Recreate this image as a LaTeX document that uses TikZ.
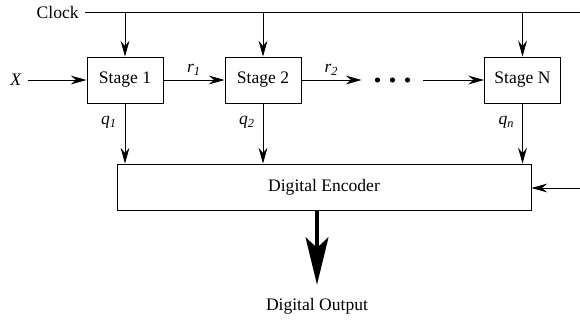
\documentclass[tikz,border=0pt]{standalone}
\usepackage{fontspec}
\setmainfont{Liberation Serif}
\usetikzlibrary{positioning,arrows.meta}

\tikzset{
  stagebox/.style={draw, minimum width=1.52cm, minimum height=0.92cm},
  sig/.style={-{Stealth[length=9pt,width=5pt,inset=3pt]}, line width=.5pt},
  bigout/.style={-{Stealth[length=27pt,width=13pt,inset=6pt]}, line width=2.3pt}
}

\begin{document}
\begin{tikzpicture}[x=0.02cm,y=-0.02cm,line width=.5pt]
          \useasboundingbox (0,0) rectangle (580,322);
          % the stages
          \node[stagebox] (s1) at (125,80) {Stage 1};
          \node[stagebox] (s2) at (263,80) {Stage 2};
          \node[stagebox] (sn) at (522.5,80) {Stage N};
          \node[inner sep=0, minimum width=1.22cm, minimum height=.2cm] (dots) at (392.5,80) {};
          \foreach \dx in {-15,0,15}
            \fill ([xshift=\dx*0.02cm]dots.center) circle (2.6);
          \node[draw, minimum width=8.28cm, minimum height=0.92cm] (enc) at (324,187) {Digital Encoder};
          % clock line
          \node[anchor=east] (clk) at (85,12) {Clock};
          \coordinate (clkend) at (580,12);
          \draw (clk) -- (clkend);
          \foreach \s in {s1,s2,sn}
            \draw[sig] (\s |- clk) -- (\s);
          % chain
          \node (x) at (16,80) {\textit{X}};
          \draw[sig] (x) -- (s1);
          \draw[sig] (s1) -- node[above=-1pt] {\textit{r}\textsubscript{\textit{1}}} (s2);
          \draw[sig] (s2) -- node[above=-1pt] {\textit{r}\textsubscript{\textit{2}}} (dots);
          \draw[sig] (dots) -- (sn);
          % stage outputs into the encoder
          \draw[sig] (s1) -- node[pos=.32,left=1pt] {\textit{q}\textsubscript{\textit{1}}} (s1 |- enc.north);
          \draw[sig] (s2) -- node[pos=.32,left=1pt] {\textit{q}\textsubscript{\textit{2}}} (s2 |- enc.north);
          \draw[sig] (sn) -- node[pos=.32,left=1pt] {\textit{q}\textsubscript{\textit{n}}} (sn |- enc.north);
          \coordinate (ext) at (580,188);
          \draw[sig] (ext) -- (enc.east |- ext);
          % output
          \node (out) at (317,306) {Digital Output};
          \draw[bigout] (out |- enc.south) -- ([yshift=0.14cm]out.north);
        \end{tikzpicture}
\end{document}
